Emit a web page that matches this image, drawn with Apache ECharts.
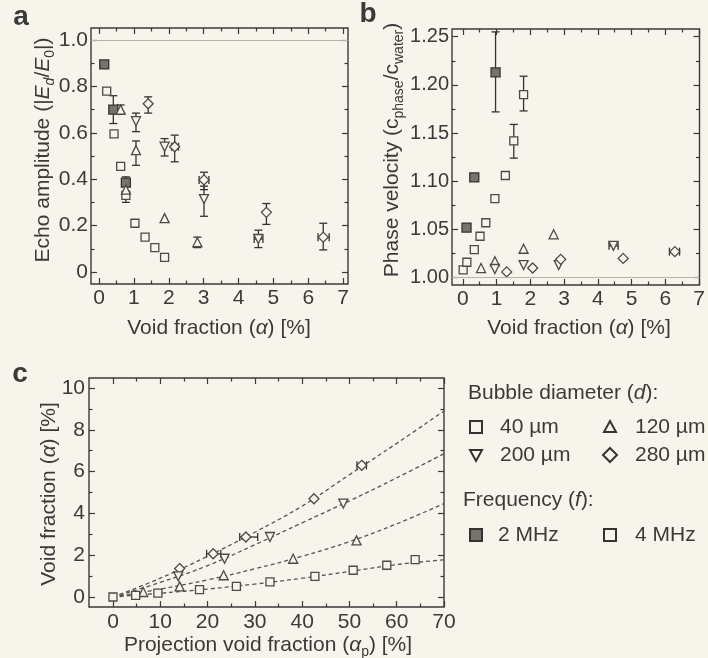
<!DOCTYPE html>
<html><head><meta charset="utf-8">
<script src="https://cdn.jsdelivr.net/npm/echarts@6/dist/echarts.min.js"></script>
<style>html,body{margin:0;padding:0;background:#f7f4ec}#c{width:708px;height:658px}</style>
</head><body><div id="c"></div><script>
// ---------- data ----------
// panel a: echo amplitude vs void fraction
const aXTicks = [0,1,2,3,4,5,6,7];
const aXLabels = ['0','1','2','3','4','5','6','7'];
const aXMinor = [0.5,1.5,2.5,3.5,4.5,5.5,6.5];
const aYTicks = [0,0.2,0.4,0.6,0.8,1.0];
const aYLabels = ['0','0.2','0.4','0.6','0.8','1.0'];
const aYMinor = [0.1,0.3,0.5,0.7,0.9];
const a40_4 = [[0.22,0.78],[0.43,0.595],[0.62,0.455],[0.77,0.33],[1.03,0.21],[1.32,0.15],[1.60,0.105],[1.88,0.063]];
const a40_2 = [[0.15,0.895],[0.41,0.70],[0.77,0.385]];
const a120 = [[0.62,0.70],[0.77,0.355],[1.06,0.525],[1.88,0.232],[2.82,0.128]];
const a200 = [[1.06,0.65],[1.88,0.54],[3.01,0.314],[4.57,0.142]];
const a280 = [[1.41,0.725],[2.17,0.54],[3.01,0.397],[4.80,0.257],[6.43,0.15]];
const aErrV = [[0.15,0.878,0.91],[0.41,0.64,0.76],[0.62,0.68,0.72],[0.77,0.30,0.41],[1.06,0.605,0.685],[1.06,0.46,0.565],[1.41,0.685,0.755],[1.88,0.50,0.575],[2.17,0.475,0.59],[2.82,0.105,0.15],[3.01,0.355,0.43],[3.01,0.24,0.37],[4.57,0.105,0.18],[4.80,0.205,0.295],[6.43,0.095,0.21]];
const aErrH = [[0.54,2.08,2.28],[0.397,2.87,3.15],[0.142,4.45,4.70],[0.15,6.28,6.60]];
// panel b: phase velocity vs void fraction
const bXTicks = [0,1,2,3,4,5,6,7];
const bXLabels = ['0','1','2','3','4','5','6','7'];
const bXMinor = [0.5,1.5,2.5,3.5,4.5,5.5,6.5];
const bYTicks = [1.00,1.05,1.10,1.15,1.20,1.25];
const bYLabels = ['1.00','1.05','1.10','1.15','1.20','1.25'];
const bYMinor = [1.025,1.075,1.125,1.175,1.225];
const b40_2 = [[0.11,1.052],[0.34,1.104],[0.97,1.213]];
const b40_4 = [[0.01,1.008],[0.12,1.016],[0.34,1.029],[0.51,1.043],[0.68,1.057],[0.95,1.082],[1.26,1.106],[1.51,1.142],[1.80,1.190]];
const b120 = [[0.54,1.010],[0.95,1.017],[1.80,1.030],[2.69,1.045]];
const b200 = [[0.95,1.009],[1.80,1.013],[2.84,1.013],[4.46,1.033]];
const b280 = [[1.30,1.006],[2.07,1.010],[2.90,1.019],[4.75,1.020],[6.28,1.027]];
const bErrV = [[0.97,1.172,1.255],[1.51,1.124,1.159],[1.80,1.173,1.209]];
const bErrH = [[1.033,4.33,4.60],[1.027,6.12,6.42]];
// panel c: void fraction vs projection void fraction
const cXTicks = [0,10,20,30,40,50,60,70];
const cXLabels = ['0','10','20','30','40','50','60','70'];
const cXMinor = [5,15,25,35,45,55,65];
const cYTicks = [0,2,4,6,8,10];
const cYLabels = ['0','2','4','6','8','10'];
const cYMinor = [1,3,5,7,9];
const cCurveX = [0,10,20,30,40,50,60,70];
const cFit280 = [0,0.9,1.95,3.1,4.35,5.85,7.35,8.9];
const cFit200 = [0,0.7,1.5,2.5,3.55,4.6,5.7,6.86];
const cFit120 = [0,0.38,0.82,1.35,1.95,2.65,3.5,4.47];
const cFit40 = [0,0.18,0.38,0.62,0.9,1.22,1.55,1.78];
const c280 = [[14.1,1.36],[21.2,2.07],[28.1,2.87],[42.5,4.70],[52.6,6.30]];
const c200 = [[13.8,0.99],[23.6,1.83],[33.2,2.87],[48.7,4.47]];
const c120 = [[6.4,0.24],[14.1,0.51],[23.4,1.04],[38.1,1.83],[51.5,2.71]];
const c40 = [[0,0],[4.8,0.08],[9.5,0.19],[18.3,0.35],[26.1,0.51],[33.2,0.72],[42.7,0.99],[50.8,1.28],[57.9,1.52],[63.9,1.79]];
const cErrH = [[2.07,19.8,22.8],[2.87,26.8,30.6],[6.30,51.6,53.6]];

// ---------- styling ----------
const BG = '#f7f4ec', INK = '#3a3a3a', FILL2 = '#77736c';
const FONT = '"Liberation Sans", Arial, sans-serif';
const INV = 'path://M0,0L10,0L5,8.7Z';

function fmtFrom(vals, labels){
  return v => { let k=0,b=1e9; vals.forEach((t,i)=>{const d=Math.abs(t-v); if(d<b){b=d;k=i;}}); return labels[k]; };
}
function axes(dim, gi, min, max, major, minor, labels, margin, fs){
  const base = {type:'value', gridIndex:gi, min, max, splitLine:{show:false},
    axisLine:{show:false, onZero:false}, axisPointer:{show:false}};
  const pos = dim==='x' ? ['bottom','top'] : ['left','right'];
  const tick = (vals,len)=>({show:true, inside:true, length:len, customValues:vals, lineStyle:{color:INK,width:1.2}});
  return [
    Object.assign({}, base, {position:pos[0], axisTick:tick(major,6),
      axisLabel:{show:true, customValues:major, formatter:fmtFrom(major,labels), margin, color:INK, fontSize:fs, fontFamily:FONT}}),
    Object.assign({}, base, {position:pos[0], axisTick:tick(minor,3.5), axisLabel:{show:false}}),
    Object.assign({}, base, {position:pos[1], axisTick:tick(major,6), axisLabel:{show:false}}),
    Object.assign({}, base, {position:pos[1], axisTick:tick(minor,3.5), axisLabel:{show:false}})
  ];
}
function sc(ai, data, symbol, size, filled){
  return {type:'scatter', xAxisIndex:ai, yAxisIndex:ai, data, symbol, symbolSize:size, z:4, silent:true,
    itemStyle:{color: filled?FILL2:BG, borderColor: filled?'#333':'#4a4a4a', borderWidth:1.3, opacity:1}};
}
function err(ai, data, vertical){
  return {type:'custom', xAxisIndex:ai, yAxisIndex:ai, data, z:3, silent:true,
    encode: vertical ? {x:0, y:[1,2]} : {x:[1,2], y:0},
    renderItem(params, api){
      const c=api.value(0), lo=api.value(1), hi=api.value(2);
      const p1 = vertical ? api.coord([c,lo]) : api.coord([lo,c]);
      const p2 = vertical ? api.coord([c,hi]) : api.coord([hi,c]);
      const w=4, st={stroke:'#333', lineWidth:1.3};
      const ch=[{type:'line', shape:{x1:p1[0],y1:p1[1],x2:p2[0],y2:p2[1]}, style:st}];
      [p1,p2].forEach(p=>{
        ch.push(vertical
          ? {type:'line', shape:{x1:p[0]-w,y1:p[1],x2:p[0]+w,y2:p[1]}, style:st}
          : {type:'line', shape:{x1:p[0],y1:p[1]-w,x2:p[0],y2:p[1]+w}, style:st});
      });
      return {type:'group', children:ch};
    }};
}
function fit(ys){
  return {type:'line', xAxisIndex:8, yAxisIndex:8, data:cCurveX.map((x,i)=>[x,ys[i]]), smooth:0.4,
    symbol:'none', silent:true, z:2, lineStyle:{color:'#555', width:1.3, type:[4,3]}};
}
const refLine = {silent:true, symbol:['none','none'], label:{show:false}, animation:false,
  lineStyle:{color:'#b8b2a8', width:1, type:'solid'}, data:[{yAxis:1}]};

const rich = {
  n:{fontSize:21, fontFamily:FONT, fill:INK, lineHeight:28},
  i:{fontSize:21, fontFamily:FONT, fill:INK, fontStyle:'italic', lineHeight:28},
  s:{fontSize:14, fontFamily:FONT, fill:INK, verticalAlign:'bottom', lineHeight:14},
  si:{fontSize:14, fontFamily:FONT, fill:INK, fontStyle:'italic', verticalAlign:'bottom', lineHeight:14}
};
function txt(x, y, text, opts){
  opts = opts || {};
  return {type:'text', x, y, rotation: opts.rot||0, silent:true, z:10,
    style:{text, rich, x:0, y:0, fill:INK, font: opts.font || ('21px '+FONT),
      align: opts.align||'center', textAlign: opts.align||'center',
      verticalAlign:'middle', textVerticalAlign:'middle'}};
}
const lgStyle = {fill:BG, stroke:'#333', lineWidth:2};
function sq(cx, cy, filled){
  return {type:'rect', shape:{x:cx-6,y:cy-6,width:12,height:12}, style:Object.assign({}, lgStyle, filled?{fill:FILL2}:{}), silent:true};
}
function poly(pts){ return {type:'polygon', shape:{points:pts}, style:lgStyle, silent:true}; }

const chart = echarts.init(document.getElementById('c'), null, {renderer:'canvas'});
chart.setOption({
  backgroundColor: BG,
  animation:false,
  textStyle:{fontFamily:FONT},
  grid:[
    {left:91, top:28, width:257, height:256, show:true, borderColor:'#3a3a3a', borderWidth:1.4, backgroundColor:'transparent'},
    {left:452, top:29, width:255, height:256, show:true, borderColor:'#3a3a3a', borderWidth:1.4, backgroundColor:'transparent'},
    {left:89, top:378, width:355, height:229, show:true, borderColor:'#3a3a3a', borderWidth:1.4, backgroundColor:'transparent'}
  ],
  xAxis:[].concat(
    axes('x',0,-0.23,7.14,aXTicks,aXMinor,aXLabels,4,21),
    axes('x',1,-0.32,7.01,bXTicks,bXMinor,bXLabels,4,21),
    axes('x',2,-5.07,70,cXTicks,cXMinor,cXLabels,5,21)
  ),
  yAxis:[].concat(
    axes('y',0,-0.052,1.052,aYTicks,aYMinor,aYLabels,3,21),
    axes('y',1,0.9924,1.258,bYTicks,bYMinor,bYLabels,3,20),
    axes('y',2,-0.478,10.478,cYTicks,cYMinor,cYLabels,4,21)
  ),
  series:[
    Object.assign(sc(0,a40_4,'rect',8,false), {markLine:refLine}),
    err(0,aErrV,true), err(0,aErrH,false),
    sc(0,a40_2,'rect',9,true),
    sc(0,a120,'triangle',9,false),
    sc(0,a200,INV,9,false),
    sc(0,a280,'diamond',10,false),
    Object.assign(sc(4,b40_4,'rect',8,false), {markLine:refLine}),
    err(4,bErrV,true), err(4,bErrH,false),
    sc(4,b40_2,'rect',9,true),
    sc(4,b120,'triangle',9,false),
    sc(4,b200,INV,9,false),
    sc(4,b280,'diamond',10,false),
    fit(cFit280), fit(cFit200), fit(cFit120), fit(cFit40),
    err(8,cErrH,false),
    sc(8,c280,'diamond',10,false),
    sc(8,c200,INV,9,false),
    sc(8,c120,'triangle',9,false),
    sc(8,c40,'rect',8,false)
  ],
  graphic:[
    txt(21,17,'a',{font:'bold 28px '+FONT}),
    txt(368,14,'b',{font:'bold 28px '+FONT}),
    txt(20,374,'c',{font:'bold 28px '+FONT}),
    txt(43,150,'{n|Echo amplitude (|}{i|E}{si|d}{n|/}{i|E}{s|0}{n||)}',{rot:Math.PI/2}),
    txt(219,328,'{n|Void fraction (}{i|α}{n|) [%]}'),
    txt(392,150,'{n|Phase velocity (c}{s|phase}{n|/c}{s|water}{n|)}',{rot:Math.PI/2}),
    txt(579,328,'{n|Void fraction (}{i|α}{n|) [%]}'),
    txt(49,494,'{n|Void fraction (}{i|α}{n|) [%]}',{rot:Math.PI/2}),
    txt(268,645,'{n|Projection void fraction (}{i|α}{s|p}{n|) [%]}'),
    txt(468,393,'{n|Bubble diameter (}{i|d}{n|):}',{align:'left'}),
    sq(476,427,false), txt(500,427,'40 µm',{align:'left'}),
    poly([[610,421],[616,432],[604,432]]), txt(635,427,'120 µm',{align:'left'}),
    poly([[470,450],[482,450],[476,461]]), txt(500,455,'200 µm',{align:'left'}),
    poly([[610,448],[617,455],[610,462],[603,455]]), txt(635,455,'280 µm',{align:'left'}),
    txt(463,500,'{n|Frequency (}{i|f}{n|):}',{align:'left'}),
    sq(476,535,true), txt(498,535,'2 MHz',{align:'left'}),
    sq(610,535,false), txt(635,535,'4 MHz',{align:'left'})
  ]
});
</script></body></html>
